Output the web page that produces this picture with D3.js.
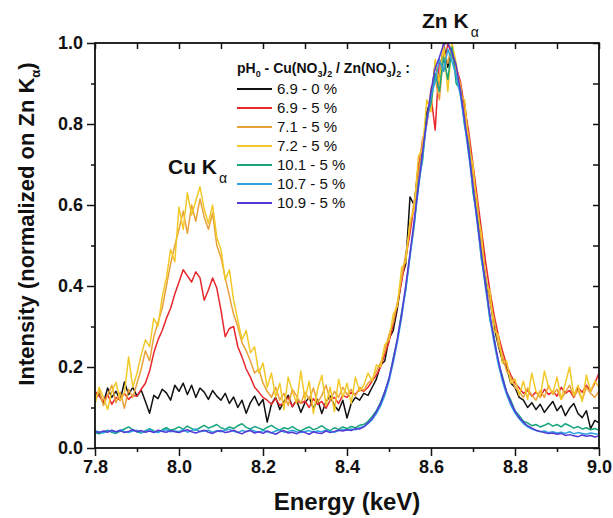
<!DOCTYPE html>
<html>
<head>
<meta charset="utf-8">
<script src="https://cdn.jsdelivr.net/npm/d3@7"></script>
<style>
  body { margin: 0; background: #fff; }
  svg text { font-family: "Liberation Sans", Arial, sans-serif; fill: #111; }
</style>
</head>
<body>
<div id="chart"></div>
<script>
// Spectra: one value per 0.01 keV channel, from 7.80 to 9.00 keV
var energyStart = 7.8;
var energyStep = 0.01;

var ph69_0 = [
  0.120,0.135,0.110,0.148,0.125,0.140,0.118,0.163,0.132,0.150,
  0.128,0.143,0.115,0.086,0.130,0.122,0.145,0.136,0.118,0.155,
  0.140,0.160,0.132,0.155,0.125,0.148,0.138,0.120,0.142,0.128,
  0.118,0.135,0.110,0.126,0.100,0.118,0.086,0.112,0.128,0.105,
  0.120,0.064,0.108,0.125,0.095,0.115,0.130,0.102,0.118,0.088,
  0.112,0.125,0.098,0.120,0.085,0.115,0.128,0.105,0.092,0.118,
  0.074,0.110,0.125,0.118,0.135,0.130,0.150,0.170,0.205,0.215,
  0.270,0.290,0.345,0.420,0.455,0.620,0.600,0.700,0.730,0.830,
  0.860,0.950,0.900,1.000,0.940,0.985,0.920,0.880,0.850,0.760,
  0.690,0.580,0.520,0.410,0.370,0.300,0.255,0.215,0.200,0.160,
  0.150,0.125,0.118,0.100,0.112,0.095,0.108,0.088,0.102,0.115,
  0.092,0.105,0.080,0.098,0.110,0.085,0.075,0.092,0.048,0.068,
  0.062
];

var ph69_5 = [
  0.140,0.128,0.115,0.132,0.108,0.125,0.118,0.135,0.120,0.130,
  0.128,0.145,0.160,0.190,0.235,0.267,0.290,0.320,0.345,0.380,
  0.410,0.440,0.425,0.410,0.435,0.420,0.365,0.390,0.420,0.395,
  0.340,0.275,0.295,0.300,0.250,0.225,0.195,0.175,0.150,0.138,
  0.125,0.118,0.108,0.122,0.105,0.112,0.125,0.102,0.118,0.110,
  0.116,0.100,0.122,0.108,0.115,0.098,0.118,0.125,0.110,0.130,
  0.125,0.138,0.132,0.145,0.140,0.150,0.165,0.180,0.200,0.232,
  0.262,0.305,0.355,0.410,0.470,0.530,0.600,0.690,0.760,0.800,
  0.870,0.785,0.960,0.930,1.000,0.970,0.940,0.905,0.840,0.780,
  0.700,0.620,0.540,0.460,0.390,0.330,0.280,0.240,0.205,0.180,
  0.160,0.148,0.135,0.142,0.128,0.138,0.125,0.145,0.132,0.140,
  0.128,0.150,0.135,0.142,0.125,0.148,0.138,0.155,0.140,0.160,
  0.185
];

var ph71_5 = [
  0.118,0.142,0.105,0.130,0.155,0.112,0.138,0.098,0.145,0.125,
  0.160,0.195,0.240,0.215,0.275,0.310,0.345,0.400,0.455,0.500,
  0.540,0.585,0.530,0.600,0.560,0.615,0.570,0.540,0.580,0.500,
  0.470,0.420,0.375,0.330,0.300,0.260,0.240,0.215,0.185,0.195,
  0.160,0.140,0.125,0.150,0.118,0.135,0.105,0.145,0.128,0.110,
  0.138,0.120,0.148,0.112,0.130,0.155,0.118,0.140,0.125,0.150,
  0.132,0.145,0.128,0.150,0.142,0.160,0.170,0.190,0.210,0.240,
  0.280,0.310,0.360,0.420,0.480,0.545,0.610,0.670,0.760,0.800,
  0.890,0.910,0.860,0.980,0.950,1.000,0.930,0.900,0.820,0.770,
  0.670,0.610,0.500,0.430,0.360,0.320,0.255,0.230,0.190,0.175,
  0.150,0.138,0.125,0.148,0.130,0.118,0.142,0.125,0.155,0.132,
  0.145,0.120,0.138,0.155,0.128,0.142,0.118,0.150,0.135,0.125,
  0.140
];

var ph72_5 = [
  0.108,0.150,0.125,0.095,0.140,0.162,0.118,0.135,0.225,0.150,
  0.185,0.230,0.267,0.250,0.320,0.300,0.373,0.420,0.490,0.460,
  0.595,0.540,0.630,0.575,0.610,0.645,0.590,0.555,0.600,0.520,
  0.490,0.415,0.440,0.365,0.316,0.267,0.290,0.235,0.250,0.185,
  0.210,0.150,0.185,0.126,0.160,0.095,0.175,0.140,0.110,0.190,
  0.120,0.165,0.085,0.145,0.180,0.105,0.150,0.090,0.170,0.125,
  0.160,0.110,0.175,0.140,0.155,0.185,0.165,0.205,0.200,0.255,
  0.267,0.330,0.350,0.445,0.460,0.560,0.590,0.720,0.740,0.860,
  0.830,0.960,0.900,1.000,0.880,1.000,0.950,0.870,0.860,0.740,
  0.700,0.580,0.530,0.400,0.390,0.290,0.280,0.210,0.215,0.160,
  0.170,0.130,0.165,0.120,0.185,0.140,0.125,0.190,0.150,0.135,
  0.175,0.120,0.160,0.200,0.130,0.155,0.115,0.180,0.140,0.165,
  0.150
];

var ph101_5 = [
  0.038,0.035,0.040,0.044,0.039,0.036,0.042,0.047,0.052,0.045,
  0.040,0.037,0.043,0.048,0.042,0.039,0.045,0.050,0.044,0.047,
  0.052,0.046,0.054,0.048,0.044,0.050,0.056,0.049,0.053,0.058,
  0.050,0.046,0.052,0.048,0.055,0.060,0.051,0.047,0.053,0.049,
  0.045,0.051,0.056,0.049,0.044,0.050,0.047,0.053,0.046,0.042,
  0.048,0.052,0.045,0.049,0.055,0.047,0.043,0.050,0.046,0.052,
  0.048,0.053,0.050,0.056,0.058,0.066,0.078,0.092,0.113,0.140,
  0.170,0.222,0.268,0.335,0.390,0.478,0.548,0.655,0.710,0.820,
  0.850,0.925,0.880,0.965,0.910,0.990,0.900,0.885,0.795,0.745,
  0.630,0.570,0.465,0.410,0.318,0.275,0.212,0.178,0.138,0.118,
  0.092,0.080,0.066,0.062,0.055,0.058,0.052,0.056,0.061,0.054,
  0.058,0.052,0.060,0.055,0.049,0.053,0.047,0.050,0.045,0.048,
  0.044
];

var ph107_5 = [
  0.042,0.040,0.037,0.043,0.041,0.039,0.045,0.041,0.038,0.042,
  0.044,0.039,0.041,0.046,0.040,0.038,0.043,0.045,0.040,0.042,
  0.041,0.045,0.039,0.043,0.047,0.040,0.042,0.044,0.039,0.043,
  0.040,0.044,0.046,0.041,0.038,0.043,0.040,0.045,0.042,0.039,
  0.043,0.040,0.037,0.042,0.045,0.039,0.041,0.044,0.040,0.038,
  0.041,0.043,0.039,0.042,0.040,0.044,0.041,0.039,0.043,0.046,
  0.044,0.047,0.045,0.050,0.053,0.060,0.070,0.085,0.104,0.130,
  0.165,0.210,0.262,0.322,0.395,0.472,0.555,0.640,0.722,0.805,
  0.870,0.905,0.960,0.930,0.985,0.955,0.920,0.870,0.800,0.722,
  0.640,0.555,0.470,0.392,0.322,0.260,0.208,0.165,0.132,0.106,
  0.086,0.072,0.060,0.052,0.047,0.043,0.040,0.042,0.038,0.040,
  0.037,0.039,0.036,0.040,0.035,0.038,0.036,0.034,0.037,0.035,
  0.033
];

var ph109_5 = [
  0.040,0.038,0.042,0.039,0.044,0.040,0.043,0.038,0.041,0.045,
  0.040,0.043,0.039,0.042,0.038,0.044,0.041,0.039,0.043,0.040,
  0.038,0.042,0.045,0.040,0.037,0.041,0.044,0.039,0.036,0.041,
  0.043,0.038,0.040,0.044,0.039,0.035,0.041,0.043,0.037,0.040,
  0.036,0.042,0.038,0.034,0.040,0.043,0.037,0.039,0.035,0.041,
  0.038,0.034,0.040,0.037,0.036,0.042,0.038,0.041,0.044,0.042,
  0.045,0.043,0.048,0.047,0.052,0.062,0.073,0.090,0.110,0.138,
  0.172,0.218,0.270,0.330,0.402,0.480,0.562,0.648,0.732,0.811,
  0.881,0.938,0.965,0.997,1.000,0.977,0.945,0.881,0.811,0.732,
  0.648,0.562,0.480,0.402,0.331,0.269,0.218,0.173,0.139,0.112,
  0.091,0.075,0.064,0.055,0.049,0.044,0.041,0.038,0.036,0.037,
  0.034,0.036,0.031,0.033,0.030,0.028,0.032,0.029,0.031,0.027,
  0.030
];

// legend order
var seriesValues = [ph69_0, ph69_5, ph71_5, ph72_5, ph101_5, ph107_5, ph109_5];
var seriesLabels = ["6.9 - 0 %", "6.9 - 5 %", "7.1 - 5 %", "7.2 - 5 %", "10.1 - 5 %", "10.7 - 5 %", "10.9 - 5 %"];
var seriesColors = ["#111111", "#e8272d", "#e9a13a", "#f2c928", "#17a57c", "#2fa3e2", "#5538d6"];

var xTicks = [7.8, 8.0, 8.2, 8.4, 8.6, 8.8, 9.0];
var xMinorTicks = [7.9, 8.1, 8.3, 8.5, 8.7, 8.9];
var yTicks = [0.0, 0.2, 0.4, 0.6, 0.8, 1.0];
var yMinorTicks = [0.1, 0.3, 0.5, 0.7, 0.9];

// SVG area
var svgWidth = 613;
var svgHeight = 518;

var margin = {
  top: 43,
  right: 14,
  bottom: 70,
  left: 95
};

var chartWidth = svgWidth - margin.left - margin.right;
var chartHeight = svgHeight - margin.top - margin.bottom;

var svg = d3.select("#chart")
  .append("svg")
  .attr("width", svgWidth)
  .attr("height", svgHeight);

var chartGroup = svg.append("g")
  .attr("transform", `translate(${margin.left}, ${margin.top})`);

var xScale = d3.scaleLinear().domain([7.8, 9.0]).range([0, chartWidth]);
var yScale = d3.scaleLinear().domain([0, 1]).range([chartHeight, 0]);
var fmt = d3.format(".1f");

svg.append("defs").append("clipPath")
  .attr("id", "plotClip")
  .append("rect")
  .attr("width", chartWidth)
  .attr("height", chartHeight);

// spectra
var drawLine = d3.line()
  .x((d, i) => xScale(energyStart + i * energyStep))
  .y(d => yScale(d));

var linesGroup = chartGroup.append("g").attr("clip-path", "url(#plotClip)");
seriesValues.forEach(function(values, k) {
  linesGroup.append("path")
    .datum(values)
    .attr("d", drawLine)
    .attr("fill", "none")
    .attr("stroke", seriesColors[k])
    .attr("stroke-width", 1.5)
    .attr("stroke-linejoin", "round");
});

// axes
function styleAxis(g) {
  g.select(".domain").remove();
  g.selectAll("line").attr("stroke", "#111").attr("stroke-width", 1.5);
  g.selectAll("text")
    .attr("font-size", "18px")
    .attr("font-weight", "bold")
    .attr("fill", "#111");
}

chartGroup.append("g")
  .attr("transform", `translate(0, ${chartHeight})`)
  .call(d3.axisBottom(xScale).tickValues(xTicks).tickSize(8).tickPadding(4).tickFormat(fmt))
  .call(styleAxis);
chartGroup.append("g")
  .attr("transform", `translate(0, ${chartHeight})`)
  .call(d3.axisBottom(xScale).tickValues(xMinorTicks).tickSize(4).tickFormat(""))
  .call(styleAxis);

chartGroup.append("g")
  .call(d3.axisLeft(yScale).tickValues(yTicks).tickSize(8).tickPadding(4).tickFormat(fmt))
  .call(styleAxis);
chartGroup.append("g")
  .call(d3.axisLeft(yScale).tickValues(yMinorTicks).tickSize(4).tickFormat(""))
  .call(styleAxis);

// top and right mirror ticks (inward)
chartGroup.append("g")
  .call(d3.axisTop(xScale).tickValues(xTicks.concat(xMinorTicks)).tickSize(-6).tickFormat(""))
  .call(styleAxis);
chartGroup.append("g")
  .attr("transform", `translate(${chartWidth}, 0)`)
  .call(d3.axisRight(yScale).tickValues(yTicks.concat(yMinorTicks)).tickSize(-6).tickFormat(""))
  .call(styleAxis);

chartGroup.append("rect")
  .attr("width", chartWidth)
  .attr("height", chartHeight)
  .attr("fill", "none")
  .attr("stroke", "#111")
  .attr("stroke-width", 1.8);

// axis titles
svg.append("text")
  .attr("x", margin.left + chartWidth / 2)
  .attr("y", 510)
  .attr("text-anchor", "middle")
  .attr("font-size", "24px")
  .attr("font-weight", "bold")
  .text("Energy (keV)");

var yTitle = svg.append("text")
  .attr("transform", "translate(34, 224) rotate(-90)")
  .attr("text-anchor", "middle")
  .attr("font-size", "22px")
  .attr("font-weight", "bold");
yTitle.append("tspan").text("Intensity (normalized on Zn K");
yTitle.append("tspan").attr("dy", 6).attr("font-size", "13px").text("\u03b1");
yTitle.append("tspan").attr("dy", -6).text(")");

// peak annotations
function peakLabel(x, y, name) {
  var t = svg.append("text")
    .attr("x", x)
    .attr("y", y)
    .attr("font-size", "21px")
    .attr("font-weight", "bold");
  t.append("tspan").text(name + " K");
  t.append("tspan").attr("dx", 2).attr("dy", 9).attr("font-size", "14px").attr("font-weight", "normal").text("\u03b1");
}
peakLabel(422, 28, "Zn");
peakLabel(168, 174, "Cu");

// legend
var legend = svg.append("g").attr("transform", "translate(237, 73)");
var lt = legend.append("text")
  .attr("font-size", "14px")
  .attr("font-weight", "bold");
var titleParts = [["pH", 0], ["0", 1], [" - Cu(NO", 0], ["3", 1], [")", 0], ["2", 1],
  [" / Zn(NO", 0], ["3", 1], [")", 0], ["2", 1], [" :", 0]];
var prevSub = 0;
titleParts.forEach(function(p) {
  var ts = lt.append("tspan").text(p[0]);
  if (p[1] !== prevSub) ts.attr("dy", p[1] ? 4 : -4);
  if (p[1]) ts.attr("font-size", "9px");
  prevSub = p[1];
});

seriesLabels.forEach(function(label, k) {
  var row = legend.append("g").attr("transform", `translate(0, ${16 + k * 19})`);
  row.append("line")
    .attr("x1", 0).attr("x2", 35)
    .attr("y1", 0).attr("y2", 0)
    .attr("stroke", seriesColors[k])
    .attr("stroke-width", 2);
  row.append("text")
    .attr("x", 40)
    .attr("y", 5)
    .attr("font-size", "15px")
    .text(label);
});
</script>
</body>
</html>
